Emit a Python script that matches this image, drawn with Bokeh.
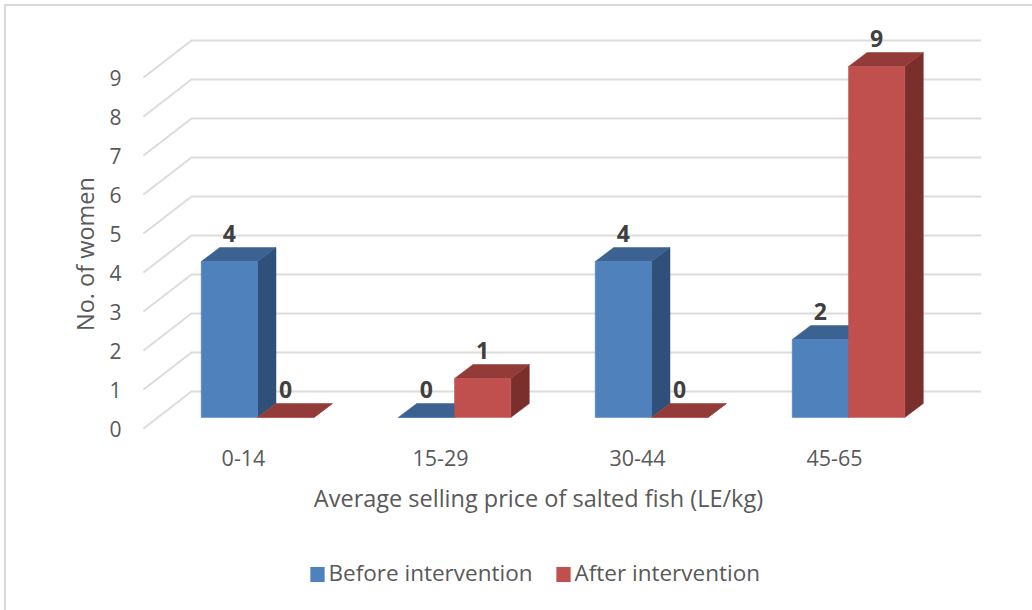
from bokeh.plotting import figure
from bokeh.models import Range1d, FixedTicker, ColumnDataSource, Label
from bokeh.core.properties import value
from bokeh.embed import file_html
from bokeh.resources import INLINE

categories = ["0-14", "15-29", "30-44", "45-65"]
series_names = ["Before intervention", "After intervention"]
before = [4, 0, 4, 2]
after = [0, 1, 0, 9]
y_ticks = [0, 1, 2, 3, 4, 5, 6, 7, 8, 9]

PITCH = 197.0
UNIT = 39.0
X0 = 243.0
Y0 = 428.0
OX, OY = 6, 6   # page position of the canvas origin
FRAME_L, FRAME_R, FRAME_T, FRAME_B = 95, 981, 10, 497


def xu(px):
    return (px - X0) / PITCH


def yu(px):
    return (Y0 - px) / UNIT


FONT = "Open Sans"
TEXT = "#595959"
BLUE = "#4f81bd"
RED = "#c0504d"

p = figure(width=1032 - OX, height=610 - OY, output_backend="svg", toolbar_location=None,
           x_range=Range1d(xu(FRAME_L), xu(FRAME_R)), y_range=Range1d(yu(FRAME_B), yu(FRAME_T)),
           min_border_left=FRAME_L - OX, min_border_right=1032 - FRAME_R,
           min_border_top=FRAME_T - OY, min_border_bottom=610 - FRAME_B)
p.styles = {"position": "absolute", "left": "4px", "top": "4px",
            "border-left": "2px solid #d9d9d9", "border-top": "2px solid #d9d9d9"}
p.frame_width = FRAME_R - FRAME_L
p.frame_height = FRAME_B - FRAME_T
p.outline_line_color = None
p.xgrid.visible = False
p.ygrid.visible = False

# gridlines on the side wall and the back wall
front_x, back_x, right_x = xu(143), xu(191), xu(981)
wall = (428 - 391) / UNIT
p.multi_line(xs=[[front_x, back_x, right_x] for _ in y_ticks],
             ys=[[v, v + wall, v + wall] for v in y_ticks],
             line_color="#dcdcdc", line_width=2)

bar_w = 56.3 / PITCH
left0 = xu(200.7)
depth_x = 18.5 / PITCH
depth_y = 14 / UNIT
floor = 11 / UNIT


def bars(vals, shift, front, top, side):
    lefts = [i + left0 + shift for i in range(len(vals))]
    rights = [l + bar_w for l in lefts]
    tops = [v + floor for v in vals]
    p.patches(xs=[[r, r + depth_x, r + depth_x, r] for r, t in zip(rights, tops)],
              ys=[[floor, floor + depth_y, t + depth_y, t] for t in tops],
              fill_color=side, line_color=side, line_width=0.5)
    p.patches(xs=[[l, r, r + depth_x, l + depth_x] for l, r in zip(lefts, rights)],
              ys=[[t, t, t + depth_y, t + depth_y] for t in tops],
              fill_color=top, line_color=top, line_width=0.5)
    p.quad(left=lefts, right=rights, bottom=floor, top=tops,
           fill_color=front, line_color=front, line_width=0.5)
    src = ColumnDataSource(dict(x=[l + bar_w / 2 for l in lefts], y=tops, t=[str(v) for v in vals]))
    p.text("x", "y", text="t", source=src, text_align="center", text_baseline="middle",
           y_offset=-28, text_font=value(FONT), text_font_style="bold",
           text_font_size="23px", text_color="#404040")


bars(before, 0, BLUE, "#3b6290", "#2f5078")
bars(after, bar_w, RED, "#933b39", "#7b2f2d")

# axes
p.xaxis.ticker = FixedTicker(ticks=list(range(len(categories))))
p.xaxis.major_label_overrides = {i: c for i, c in enumerate(categories)}
p.xaxis.axis_line_color = None
p.xaxis.major_tick_line_color = None
p.xaxis.minor_tick_line_color = None
p.xaxis.major_label_text_font = FONT
p.xaxis.major_label_text_font_size = "21.5px"
p.xaxis.major_label_text_color = TEXT
p.xaxis.major_label_standoff = -54
p.xaxis.axis_label = "Average selling price of salted fish (LE/kg)"
p.xaxis.axis_label_text_font = FONT
p.xaxis.axis_label_text_font_style = "normal"
p.xaxis.axis_label_text_font_size = "23.5px"
p.xaxis.axis_label_text_color = TEXT
p.xaxis.axis_label_standoff = 13

p.yaxis.ticker = FixedTicker(ticks=y_ticks)
p.yaxis.axis_line_color = None
p.yaxis.major_tick_line_color = None
p.yaxis.minor_tick_line_color = None
p.yaxis.major_label_text_font = FONT
p.yaxis.major_label_text_font_size = "21px"
p.yaxis.major_label_text_color = TEXT
p.yaxis.major_label_standoff = -32
p.yaxis.axis_label = "No. of women"
p.yaxis.axis_label_text_font = FONT
p.yaxis.axis_label_text_font_style = "normal"
p.yaxis.axis_label_text_font_size = "23.5px"
p.yaxis.axis_label_text_color = TEXT
p.yaxis.axis_label_standoff = 5

# legend: swatches and texts in the panel below the frame, placed through the data scales
for name, color, swatch_x, label_x in zip(series_names, [BLUE, RED], [317, 563], [328, 574]):
    p.add_layout(Label(text=" ", x=xu(swatch_x), y=yu(574), x_units="data", y_units="data",
                       text_font_size="1px", text_align="center", text_baseline="middle",
                       background_fill_color=color, padding=7), "below")
    p.add_layout(Label(text=name, x=xu(label_x), y=yu(572), x_units="data", y_units="data",
                       text_font=FONT, text_font_size="22.5px", text_color=TEXT,
                       text_align="left", text_baseline="middle"), "below")

open("out.html", "w").write(file_html(p, INLINE))
